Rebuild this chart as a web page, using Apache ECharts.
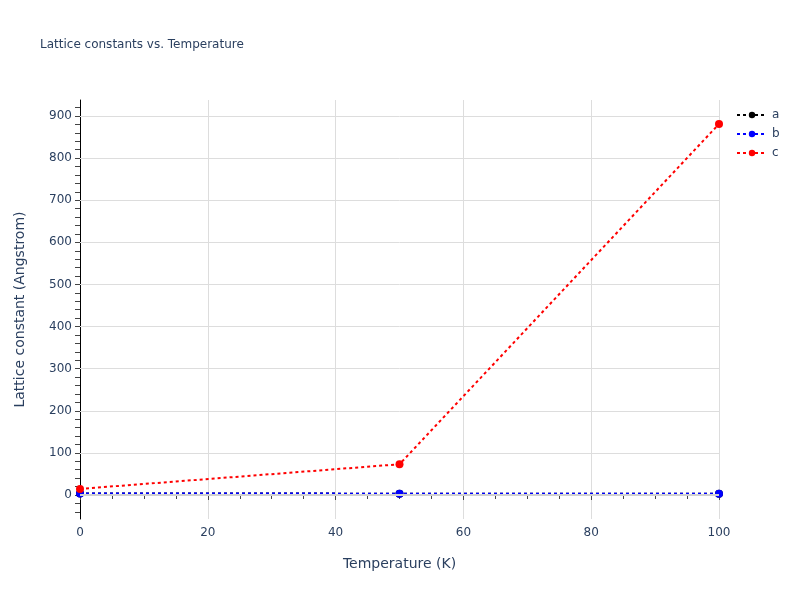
<!DOCTYPE html>
<html><head><meta charset="utf-8">
<script src="https://cdn.jsdelivr.net/npm/echarts@6/dist/echarts.min.js"></script>
<style>html,body{margin:0;padding:0;background:#fff}#c{width:800px;height:600px}</style>
</head><body><div id="c"></div>
<script>
const temperatures = [0, 50, 100];
const aValues = [3.5, 3.2, 3.0];
const bValues = [3.5, 3.2, 3.0];
const cValues = [14.5, 73, 881];
const seriesNames = ['a', 'b', 'c'];
const seriesColors = ['#000000', '#0000ff', '#ff0000'];
const seriesValues = [aValues, bValues, cValues];
const yLabelValues = [0, 100, 200, 300, 400, 500, 600, 700, 800, 900];
const yTickValues = [-40, -20, 0, 20, 40, 60, 80, 100, 120, 140, 160, 180, 200, 220, 240, 260, 280, 300,
  320, 340, 360, 380, 400, 420, 440, 460, 480, 500, 520, 540, 560, 580, 600, 620, 640, 660, 680, 700,
  720, 740, 760, 780, 800, 820, 840, 860, 880, 900, 920];

const FONT = '"DejaVu Sans", verdana, arial, sans-serif';
const chart = echarts.init(document.getElementById('c'));
const series = seriesNames.map((n, i) => ({
  name: n, type: 'line',
  data: temperatures.map((t, j) => [t, seriesValues[i][j]]),
  symbol: 'circle', symbolSize: 8,
  itemStyle: { color: seriesColors[i] },
  lineStyle: { color: seriesColors[i], width: 2, type: [3, 3] },
  z: 3 + i
}));
series.unshift({
  name: 'grid', type: 'line', data: [], z: 1, silent: true,
  markLine: {
    silent: true, symbol: 'none', animation: false,
    label: { show: false },
    data: yLabelValues.map(v => ({ yAxis: v, lineStyle: { color: v === 0 ? '#d0d0d0' : '#dddddd', width: v === 0 ? 2 : 1, type: 'solid' } }))
  }
});
chart.setOption({
  animation: false,
  textStyle: { fontFamily: FONT },
  title: { text: 'Lattice constants vs. Temperature', left: 35, top: 34,
    textStyle: { fontSize: 12, fontWeight: 'normal', color: '#2a3f5f', fontFamily: FONT } },
  legend: { orient: 'vertical', left: 731, top: 104, itemWidth: 30, itemHeight: 8, itemGap: 7,
    textStyle: { fontSize: 12, color: '#2a3f5f', fontFamily: FONT },
    data: seriesNames },
  grid: { left: 80, right: 81, top: 100, bottom: 81, containLabel: false },
  xAxis: {
    type: 'value', min: 0, max: 100, interval: 20,
    name: 'Temperature (K)', nameLocation: 'middle', nameGap: 38,
    nameTextStyle: { fontSize: 14, color: '#2a3f5f', fontFamily: FONT },
    axisLine: { show: true, lineStyle: { color: '#000', width: 1 } },
    axisTick: { show: true, length: 5, lineStyle: { color: '#444' } },
    minorTick: { show: true, splitNumber: 4, length: 4, lineStyle: { color: '#444' } },
    axisLabel: { fontSize: 12, color: '#2a3f5f', margin: 8 },
    splitLine: { show: true, lineStyle: { color: '#dddddd', width: 1 } }
  },
  yAxis: {
    type: 'value', min: -57, max: 938,
    name: 'Lattice constant (Angstrom)', nameLocation: 'middle', nameGap: 53,
    nameTextStyle: { fontSize: 14, color: '#2a3f5f', fontFamily: FONT },
    axisLine: { show: true, lineStyle: { color: '#000', width: 1 } },
    axisTick: { show: true, length: 5, lineStyle: { color: '#444' }, customValues: yTickValues },
    axisLabel: { fontSize: 12, color: '#2a3f5f', margin: 8, customValues: yLabelValues },
    splitLine: { show: false }
  },
  series: series
});
</script></body></html>
